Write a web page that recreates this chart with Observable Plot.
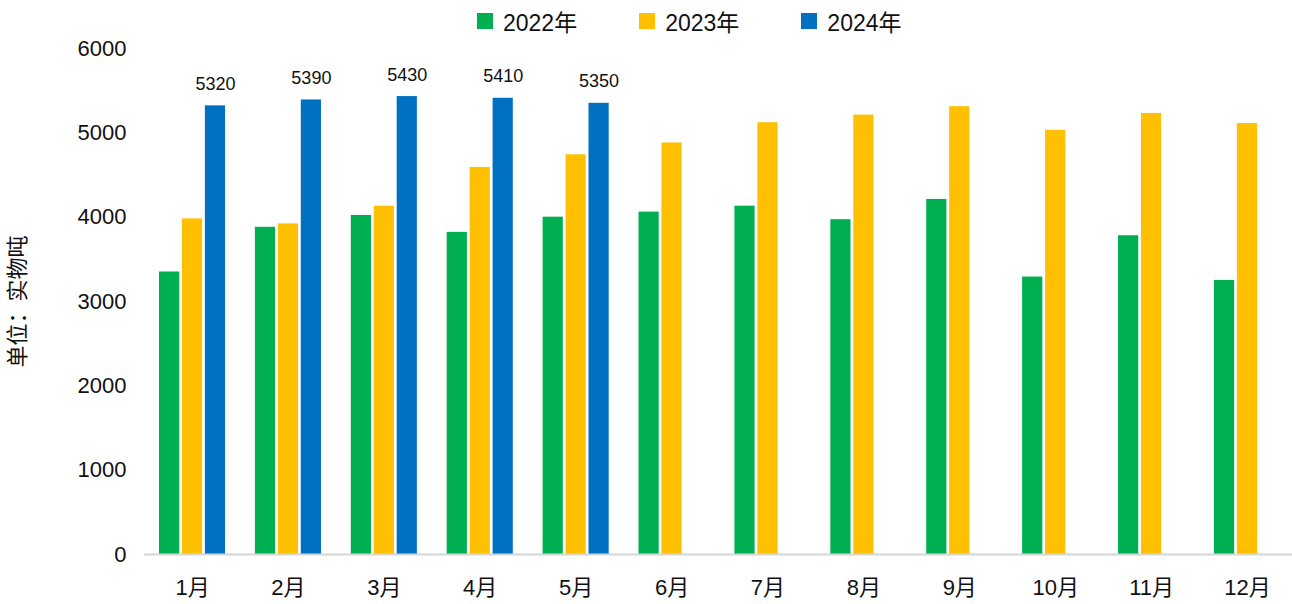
<!DOCTYPE html>
<html>
<head>
<meta charset="utf-8">
<script src="https://cdn.jsdelivr.net/npm/d3@7"></script>
<script src="https://cdn.jsdelivr.net/npm/@observablehq/plot@0.6"></script>
<style>
  html, body { margin: 0; padding: 0; background: #fff; }
  body { width: 1292px; height: 604px; overflow: hidden; font-family: "Liberation Sans", "Noto Sans CJK SC", sans-serif; }
  #legend { height: 36px; display: flex; align-items: center; padding-left: 477px; padding-top: 6px; box-sizing: border-box; font-size: 23px; color: #111; }
  .item { display: flex; align-items: center; margin-right: 62px; }
  .sw { width: 16px; height: 16px; margin-right: 10px; }
</style>
</head>
<body>
<div id="legend"></div>
<div id="chart"></div>
<script>
const months = ["1月","2月","3月","4月","5月","6月","7月","8月","9月","10月","11月","12月"];
const years = ["2022年","2023年","2024年"];
const colors = ["#00B050","#FFC000","#0070C0"];
const v2022 = [3350,3880,4020,3820,4000,4060,4130,3970,4210,3290,3780,3250];
const v2023 = [3980,3920,4130,4590,4740,4880,5120,5210,5310,5030,5230,5110];
const v2024 = [5320,5390,5430,5410,5350];
const yTicks = [0,1000,2000,3000,4000,5000,6000];
const yTitle = "单位：实物吨";

const series = [v2022, v2023, v2024];
const rows = [];
series.forEach((vals, i) => vals.forEach((v, j) => rows.push({month: months[j], year: years[i], value: v})));

const legend = document.getElementById("legend");
years.forEach((y, i) => {
  const it = document.createElement("div");
  it.className = "item";
  it.innerHTML = `<div class="sw" style="background:${colors[i]}"></div><span>${y}</span>`;
  legend.appendChild(it);
});

const chart = Plot.plot({
  width: 1292,
  height: 568,
  marginLeft: 147,
  marginRight: 0,
  marginTop: 12,
  marginBottom: 50,
  style: {fontFamily: '"Liberation Sans", "Noto Sans CJK SC", sans-serif', fontSize: "22px", color: "#111", background: "transparent", overflow: "visible"},
  fx: {domain: months, round: false, paddingInner: 0.311, paddingOuter: 0.125, label: null, axis: "bottom", tickSize: 0, tickPadding: 25},
  x: {domain: years, round: false, paddingInner: 0.12, paddingOuter: 0, axis: null},
  y: {domain: [0, 6000], ticks: yTicks, tickFormat: d3.format("d"), tickSize: 0, tickPadding: 33, label: yTitle, labelAnchor: "center", labelOffset: 150, labelArrow: "none"},
  color: {domain: years, range: colors},
  marks: [
    Plot.barY(rows, {fx: "month", x: "year", y: "value", fill: "year"}),
    Plot.ruleY([0], {stroke: "#d6d6d6", strokeWidth: 2, insetLeft: -15, insetRight: -15}),
    Plot.text(rows.filter(d => d.year === "2024年"), {fx: "month", x: "year", y: "value", text: d => String(d.value), lineAnchor: "bottom", dy: -16, fontSize: 18, fill: "#111"})
  ]
});
document.getElementById("chart").appendChild(chart);
</script>
</body>
</html>
